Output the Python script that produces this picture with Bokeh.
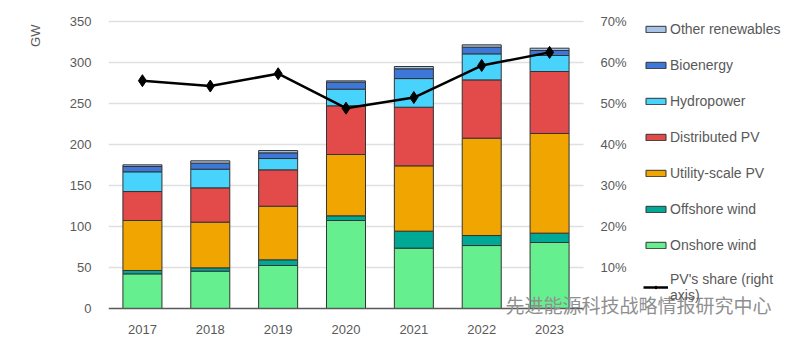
from bokeh.plotting import figure
from bokeh.models import (Range1d, LinearAxis, FixedTicker, PrintfTickFormatter,
                          Legend, LegendItem, Label, Title)
from bokeh.embed import file_html
from bokeh.resources import INLINE

years = ["2017", "2018", "2019", "2020", "2021", "2022", "2023"]
onshore = [42.2, 45.5, 52.4, 107.2, 73.5, 76.7, 80.4]
offshore = [4.1, 4.0, 6.9, 5.7, 20.7, 12.2, 11.4]
utility = [60.9, 55.7, 65.3, 74.7, 79.6, 118.6, 121.4]
distributed = [35.3, 41.8, 44.3, 59.3, 71.4, 71.0, 75.5]
hydro = [24.0, 22.7, 13.8, 20.3, 34.9, 31.7, 19.5]
bio = [6.5, 7.3, 6.9, 8.5, 11.9, 8.1, 6.1]
other = [2.0, 2.9, 2.8, 1.6, 2.8, 2.9, 2.8]
pv_share = [55.5, 54.2, 57.2, 48.8, 51.4, 59.2, 62.4]
gw_ticks = [0, 50, 100, 150, 200, 250, 300, 350]
share_ticks = [10, 20, 30, 40, 50, 60, 70]

series = ["onshore", "offshore", "utility", "distributed", "hydro", "bio", "other"]
names = ["Onshore wind", "Offshore wind", "Utility-scale PV", "Distributed PV",
         "Hydropower", "Bioenergy", "Other renewables"]
colors = ["#66ef8f", "#00a896", "#f0a500", "#e34a4a", "#48d3fd", "#3d78d8", "#a7c3e6"]
share_label = "PV's share (right\naxis)"
watermark = "先进能源科技战略情报研究中心"

n = len(years)
xs = [i + 0.5 for i in range(n)]
data = dict(x=xs, onshore=onshore, offshore=offshore, utility=utility,
            distributed=distributed, hydro=hydro, bio=bio, other=other, share=pv_share)

FONT = "Liberation Sans"
GREY = "#595959"

GW_MAX = 350
SHARE_MAX = 70
Y_MIN = -40.2                     # frame extends below the baseline
Y_TOP = 375.2                     # frame extends above the top gridline
X_MAX = n * 692 / 475             # frame extends right of the last category
ratio = SHARE_MAX / GW_MAX

p = figure(x_range=Range1d(0, X_MAX), y_range=Range1d(Y_MIN, Y_TOP),
           width=800, height=341, output_backend="svg", toolbar_location=None,
           min_border_left=108, min_border_top=0, min_border_bottom=0,
           min_border_right=0)
p.outline_line_color = None

renderers = p.vbar_stack(series, x="x", width=0.575, color=colors,
                         line_color="#333333", line_width=1, source=data)

p.extra_y_ranges = {"share": Range1d(Y_MIN * ratio, Y_TOP * ratio)}
ax2 = LinearAxis(y_range_name="share", ticker=FixedTicker(ticks=share_ticks),
                 formatter=PrintfTickFormatter(format="%d%%"), fixed_location=n)
p.add_layout(ax2, "right")

line = p.line("x", "share", source=data, y_range_name="share",
              line_color="black", line_width=2.5)
pts = p.scatter("x", "share", source=data, y_range_name="share",
                marker="diamond", size=12, color="black")

for ax in [p.yaxis[0], ax2]:
    ax.axis_line_color = None
    ax.major_tick_line_color = None
    ax.minor_tick_line_color = None
    ax.major_label_text_font = FONT
    ax.major_label_text_font_size = "13px"
    ax.major_label_text_color = GREY
    ax.major_label_standoff = 11
p.yaxis[0].ticker = FixedTicker(ticks=gw_ticks)

xa = p.xaxis[0]
xa.fixed_location = 0
xa.bounds = (0, n)
xa.ticker = FixedTicker(ticks=xs)
xa.major_label_overrides = {x: y for x, y in zip(xs, years)}
xa.axis_line_color = "#595959"
xa.axis_line_width = 1.5
xa.major_tick_line_color = None
xa.minor_tick_line_color = None
xa.major_label_text_font = FONT
xa.major_label_text_font_size = "13px"
xa.major_label_text_color = GREY
xa.major_label_standoff = 10

p.xgrid.grid_line_color = None
yg = p.ygrid[0]
yg.grid_line_color = "#e0e0e0"
yg.grid_line_width = 1.5
yg.ticker = FixedTicker(ticks=gw_ticks[1:])
if "cross_bounds" in yg.properties():
    yg.cross_bounds = (0, n)

items = [LegendItem(label=names[i], renderers=[renderers[i]]) for i in range(6, -1, -1)]
items.append(LegendItem(label=share_label, renderers=[line, pts]))
legend = Legend(items=items, location=(535, 38), glyph_width=25, glyph_height=8,
                label_standoff=2, spacing=16, label_height=20,
                label_text_font=FONT, label_text_font_size="14px", label_text_color=GREY,
                border_line_color=None, background_fill_alpha=0,
                padding=0, margin=0)
p.add_layout(legend)

p.add_layout(Title(text="GW", align="right", offset=24, text_font=FONT,
                   text_font_size="13px", text_color=GREY, text_font_style="normal",
                   standoff=48), "left")
p.add_layout(Label(x=397, y=37, x_units="screen", y_units="screen", text=watermark,
                   text_align="left", text_baseline="middle",
                   text_font="Noto Sans CJK SC", text_font_size="19px", text_color="#8f8f8f"))

open("out.html", "w").write(file_html(p, INLINE))
